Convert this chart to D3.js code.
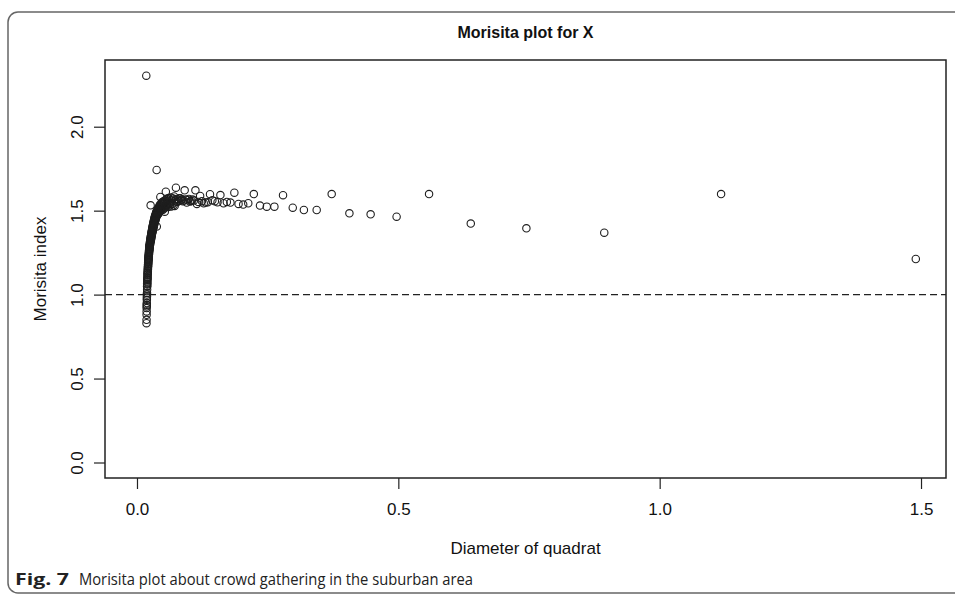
<!DOCTYPE html>
<html>
<head>
<meta charset="utf-8">
<script src="https://cdn.jsdelivr.net/npm/d3@7"></script>
<style>
  body { margin: 0; background: #fff; }
  svg { display: block; }
</style>
</head>
<body>
<svg id="chart" width="955" height="594"></svg>
<script>
// Quadrat diameters (one per grid resolution) and the Morisita index at each.
const diameter = [
  1.49, 1.1175, 0.894, 0.745, 0.6386, 0.5588, 0.4967, 0.447, 0.4064, 0.3725,
  0.3438, 0.3193, 0.298, 0.2794, 0.2629, 0.2483, 0.2353, 0.2235, 0.2129, 0.2032,
  0.1943, 0.1863, 0.1788, 0.1719, 0.1656, 0.1596, 0.1541, 0.149, 0.1442, 0.1397,
  0.1355, 0.1315, 0.1277, 0.1242, 0.1208, 0.1176, 0.1146, 0.1118, 0.109, 0.1064,
  0.104, 0.1016, 0.0993, 0.0972, 0.0951, 0.0931, 0.0912, 0.0894, 0.0876, 0.086,
  0.0843, 0.0828, 0.0813, 0.0798, 0.0784, 0.0771, 0.0758, 0.0745, 0.0733, 0.0721,
  0.071, 0.0698, 0.0688, 0.0677, 0.0667, 0.0657, 0.0648, 0.0639, 0.063, 0.0621,
  0.0612, 0.0604, 0.0596, 0.0588, 0.0581, 0.0573, 0.0566, 0.0559, 0.0552, 0.0545,
  0.0539, 0.0532, 0.0526, 0.052, 0.0514, 0.0508, 0.0502, 0.0497, 0.0491, 0.0486,
  0.0481, 0.0476, 0.0471, 0.0466, 0.0461, 0.0456, 0.0452, 0.0447, 0.0443, 0.0438,
  0.0434, 0.043, 0.0426, 0.0422, 0.0418, 0.0414, 0.041, 0.0406, 0.0403, 0.0399,
  0.0396, 0.0392, 0.0389, 0.0385, 0.0382, 0.0379, 0.0376, 0.0373, 0.0369, 0.0366,
  0.0363, 0.036, 0.0358, 0.0355, 0.0352, 0.0349, 0.0347, 0.0344, 0.0341, 0.0339,
  0.0336, 0.0334, 0.0331, 0.0329, 0.0326, 0.0324, 0.0322, 0.0319, 0.0317, 0.0315,
  0.0313, 0.031, 0.0308, 0.0306, 0.0304, 0.0302, 0.03, 0.0298, 0.0296, 0.0294,
  0.0292, 0.029, 0.0288, 0.0287, 0.0285, 0.0283, 0.0281, 0.0279, 0.0278, 0.0276,
  0.0274, 0.0273, 0.0271, 0.0269, 0.0268, 0.0266, 0.0265, 0.0263, 0.0261, 0.026,
  0.0258, 0.0257, 0.0255, 0.0254, 0.0253, 0.0251, 0.025, 0.0248, 0.0247, 0.0246,
  0.0244, 0.0243, 0.0242, 0.024, 0.0239, 0.0238, 0.0237, 0.0235, 0.0234, 0.0233,
  0.0232, 0.023, 0.0229, 0.0228, 0.0227, 0.0226, 0.0225, 0.0224, 0.0222, 0.0221,
  0.022, 0.0219, 0.0218, 0.0217, 0.0216, 0.0215, 0.0214, 0.0213, 0.0212, 0.0211,
  0.021, 0.0209, 0.0208, 0.0207, 0.0206, 0.0205, 0.0204, 0.0203, 0.0202, 0.0201,
  0.02, 0.02, 0.0199, 0.0198, 0.0197, 0.0196, 0.0195, 0.0194, 0.0194, 0.0193,
  0.0192, 0.0191, 0.019, 0.0189, 0.0189, 0.0188, 0.0187, 0.0186, 0.0185, 0.0185,
  0.0184, 0.0183, 0.0182
];

const morisita = [
  1.212, 1.599, 1.369, 1.395, 1.423, 1.599, 1.464, 1.478, 1.484, 1.599,
  1.504, 1.504, 1.518, 1.592, 1.524, 1.524, 1.530, 1.599, 1.544, 1.536,
  1.540, 1.607, 1.548, 1.552, 1.544, 1.593, 1.550, 1.556, 1.562, 1.598,
  1.550, 1.548, 1.544, 1.556, 1.588, 1.552, 1.540, 1.621, 1.560, 1.566,
  1.558, 1.554, 1.570, 1.562, 1.548, 1.566, 1.621, 1.560, 1.556, 1.568,
  1.562, 1.574, 1.574, 1.558, 1.566, 1.552, 1.570, 1.637, 1.560, 1.528,
  1.585, 1.530, 1.572, 1.540, 1.560, 1.525, 1.578, 1.545, 1.532, 1.566,
  1.540, 1.575, 1.522, 1.558, 1.548, 1.530, 1.570, 1.538, 1.613, 1.520,
  1.562, 1.494, 1.548, 1.515, 1.558, 1.528, 1.545, 1.505, 1.552, 1.520,
  1.540, 1.508, 1.548, 1.512, 1.536, 1.500, 1.530, 1.582, 1.505, 1.535,
  1.498, 1.528, 1.490, 1.522, 1.495, 1.518, 1.482, 1.515, 1.488, 1.508,
  1.475, 1.505, 1.480, 1.498, 1.470, 1.405, 1.742, 1.495, 1.462, 1.488,
  1.458, 1.482, 1.450, 1.475, 1.445, 1.470, 1.438, 1.468, 1.432, 1.460,
  1.428, 1.455, 1.420, 1.448, 1.415, 1.440, 1.410, 1.435, 1.402, 1.428,
  1.398, 1.422, 1.392, 1.415, 1.386, 1.410, 1.380, 1.402, 1.375, 1.396,
  1.370, 1.390, 1.365, 1.384, 1.358, 1.378, 1.352, 1.372, 1.346, 1.366,
  1.340, 1.360, 1.334, 1.354, 1.328, 1.348, 1.322, 1.342, 1.532, 1.336,
  1.316, 1.330, 1.310, 1.324, 1.304, 1.318, 1.298, 1.312, 1.292, 1.306,
  1.286, 1.300, 1.280, 1.294, 1.272, 1.288, 1.264, 1.280, 1.256, 1.272,
  1.248, 1.262, 1.240, 1.254, 1.230, 1.246, 1.222, 1.236, 1.212, 1.228,
  1.204, 1.218, 1.194, 1.210, 1.184, 1.200, 1.174, 1.190, 1.164, 1.180,
  1.152, 1.168, 1.140, 1.156, 1.128, 1.144, 1.116, 1.132, 1.100, 1.120,
  1.088, 1.104, 1.072, 1.092, 1.060, 1.080, 1.048, 1.064, 1.030, 1.050,
  1.010, 0.990, 1.000, 0.970, 0.980, 0.950, 0.930, 0.940, 0.900, 0.920,
  0.880, 0.850, 0.830
];
// Isolated high value at one of the smallest quadrat sizes.
const outlierDiameter = [0.0178];
const outlierMorisita = [2.304];

const xTicks = [0, 0.5, 1.0, 1.5];
const yTicks = [0, 0.5, 1.0, 1.5, 2.0];
// Index value expected under complete spatial randomness
const randomLevel = [1];

const titleText = "Morisita plot for X";
const xTitle = "Diameter of quadrat";
const yTitle = "Morisita index";
const figLabel = "Fig. 7";
const captionText = "Morisita plot about crowd gathering in the suburban area";

const svg = d3.select("#chart");
const box = { left: 105, right: 946, top: 60, bottom: 478 };

const x = d3.scaleLinear().domain([-0.0612, 1.5478]).range([box.left, box.right]);
const y = d3.scaleLinear().domain([-0.0923, 2.3973]).range([box.bottom, box.top]);

const plotFont = "'Liberation Sans', Arial, sans-serif";

// Figure frame with rounded left corners
svg.append("path")
  .attr("d", "M 960 12 H 18 A 10 10 0 0 0 8 22 V 583 A 10 10 0 0 0 18 593 H 960")
  .attr("fill", "none")
  .attr("stroke", "#666")
  .attr("stroke-width", 1.5);

// Reference line at index = 1
svg.selectAll("line.ref")
  .data(randomLevel)
  .join("line")
  .attr("class", "ref")
  .attr("x1", box.left).attr("x2", box.right)
  .attr("y1", d => y(d)).attr("y2", d => y(d))
  .attr("stroke", "#222")
  .attr("stroke-width", 1.2)
  .attr("stroke-dasharray", "7,4");

// Points
const points = d3.zip(diameter, morisita).concat(d3.zip(outlierDiameter, outlierMorisita));
svg.append("g")
  .selectAll("circle")
  .data(points)
  .join("circle")
  .attr("cx", d => x(d[0]))
  .attr("cy", d => y(d[1]))
  .attr("r", 3.7)
  .attr("fill", "none")
  .attr("stroke", "#1e1e1e")
  .attr("stroke-width", 1.1);

// Plot box
svg.append("rect")
  .attr("x", box.left).attr("y", box.top)
  .attr("width", box.right - box.left).attr("height", box.bottom - box.top)
  .attr("fill", "none")
  .attr("stroke", "#222")
  .attr("stroke-width", 1.5);

// X axis
const xAxis = svg.append("g")
  .attr("transform", `translate(0,${box.bottom})`)
  .call(d3.axisBottom(x).tickValues(xTicks).tickSize(11).tickPadding(14).tickFormat(d3.format(".1f")));
xAxis.select(".domain").remove();
xAxis.selectAll(".tick line").attr("stroke", "#222").attr("stroke-width", 1.2);
xAxis.selectAll(".tick text")
  .attr("fill", "#111")
  .style("font-family", plotFont)
  .style("font-size", "17px");

// Y axis (labels parallel to the axis)
const yAxis = svg.append("g")
  .attr("transform", `translate(${box.left},0)`)
  .call(d3.axisLeft(y).tickValues(yTicks).tickSize(11).tickFormat(""));
yAxis.select(".domain").remove();
yAxis.selectAll(".tick line").attr("stroke", "#222").attr("stroke-width", 1.2);
yAxis.selectAll(".tick")
  .append("text")
  .attr("transform", "translate(-28,0) rotate(-90)")
  .attr("text-anchor", "middle")
  .attr("dy", "0.35em")
  .attr("fill", "#111")
  .style("font-family", plotFont)
  .style("font-size", "17px")
  .text(d3.format(".1f"));

// Titles
svg.append("text")
  .attr("x", (box.left + box.right) / 2).attr("y", 38)
  .attr("text-anchor", "middle")
  .style("font-family", plotFont).style("font-size", "16px").style("font-weight", "bold")
  .attr("fill", "#111")
  .text(titleText);

svg.append("text")
  .attr("x", (box.left + box.right) / 2).attr("y", 554)
  .attr("text-anchor", "middle")
  .style("font-family", plotFont).style("font-size", "17px")
  .attr("fill", "#111")
  .text(xTitle);

svg.append("text")
  .attr("transform", `translate(46,${(box.top + box.bottom) / 2}) rotate(-90)`)
  .attr("text-anchor", "middle")
  .style("font-family", plotFont).style("font-size", "17px")
  .attr("fill", "#111")
  .text(yTitle);

// Caption
svg.append("text")
  .attr("x", 15).attr("y", 585)
  .style("font-family", "'Open Sans', 'Noto Sans', sans-serif")
  .style("font-size", "16px").style("font-weight", "bold")
  .attr("fill", "#222")
  .attr("textLength", 54).attr("lengthAdjust", "spacingAndGlyphs")
  .text(figLabel);

svg.append("text")
  .attr("x", 79).attr("y", 585)
  .style("font-family", "'Open Sans', 'Noto Sans', sans-serif")
  .style("font-size", "16px")
  .attr("fill", "#222")
  .attr("textLength", 394).attr("lengthAdjust", "spacingAndGlyphs")
  .text(captionText);
</script>
</body>
</html>
